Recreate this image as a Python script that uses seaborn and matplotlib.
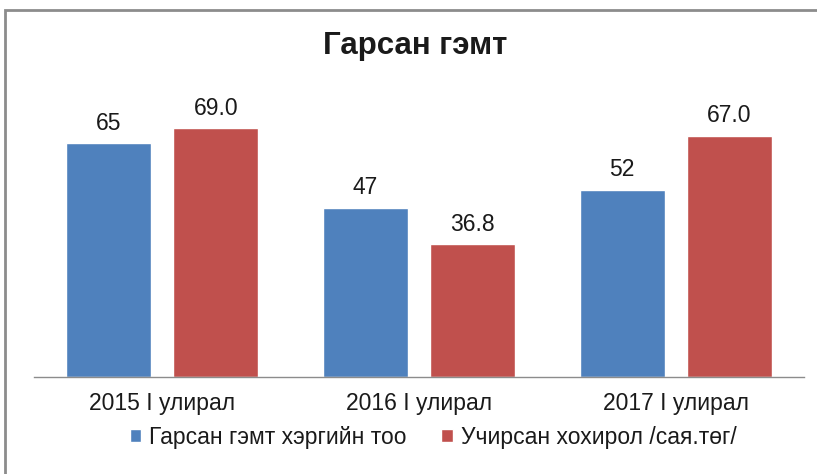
import pandas as pd
import matplotlib.pyplot as plt
import seaborn as sns
from matplotlib.patches import Rectangle

# Өгөгдөл
angilal = ["2015 I улирал", "2016 I улирал", "2017 I улирал"]
gemt_too = [65, 47, 52]
hohirol = [69.0, 36.8, 67.0]
tsuvral = ["Гарсан гэмт хэргийн тоо", "Учирсан хохирол /сая.төг/"]
ungu = ["#4F81BD", "#C0504D"]

df = pd.DataFrame({
    "angilal": angilal * 2,
    "utga": gemt_too + hohirol,
    "tsuvral": [tsuvral[0]] * 3 + [tsuvral[1]] * 3,
})

sns.set_style("white")
plt.rcParams['font.family'] = ['Liberation Sans', 'DejaVu Sans']

fig = plt.figure(figsize=(8.17, 4.74), dpi=100)
ax = fig.add_axes([0.0416, 0.2046, 0.9425, 0.5844])

sns.barplot(data=df, x="angilal", y="utga", hue="tsuvral", palette=ungu,
            width=0.834, gap=0.206, saturation=1, ax=ax)

# Баганын дээрх утгууд
ax.bar_label(ax.containers[0], labels=[f"{v:d}" for v in gemt_too], padding=6, fontsize=16.5, color="#1a1a1a")
ax.bar_label(ax.containers[1], labels=[f"{v:.1f}" for v in hohirol], padding=6, fontsize=16.5, color="#1a1a1a")

ax.set_xlim(-0.5, 2.5)
ax.set_ylim(0, 76.9)
ax.set_xlabel("")
ax.set_ylabel("")
ax.set_yticks([])
for s in ["top", "right", "left"]:
    ax.spines[s].set_visible(False)
ax.spines["bottom"].set_color("#8c8c8c")
ax.spines["bottom"].set_linewidth(1)
ax.tick_params(axis="x", length=0, pad=11, labelsize=16.5, labelcolor="#1a1a1a")

fig.text(0.508, 0.903, "Гарсан гэмт", ha="center", va="center", fontsize=22.5, fontweight="bold", color="#1a1a1a")

sns.move_legend(ax, "center", bbox_to_anchor=(0.53, 0.078), bbox_transform=fig.transFigure,
                ncol=2, frameon=False, title=None, fontsize=16.5,
                handlelength=0.5, handleheight=0.5, handletextpad=0.35, columnspacing=1.5)
for t in ax.get_legend().get_texts():
    t.set_color("#1a1a1a")

# Хүрээ
fig.patches.append(Rectangle((5 / 817, -0.2), 1.2, 1.2 - 10 / 474, transform=fig.transFigure,
                             fill=False, edgecolor="#8c8c8c", linewidth=2, zorder=-1))

fig.savefig("out.png", dpi=100)
